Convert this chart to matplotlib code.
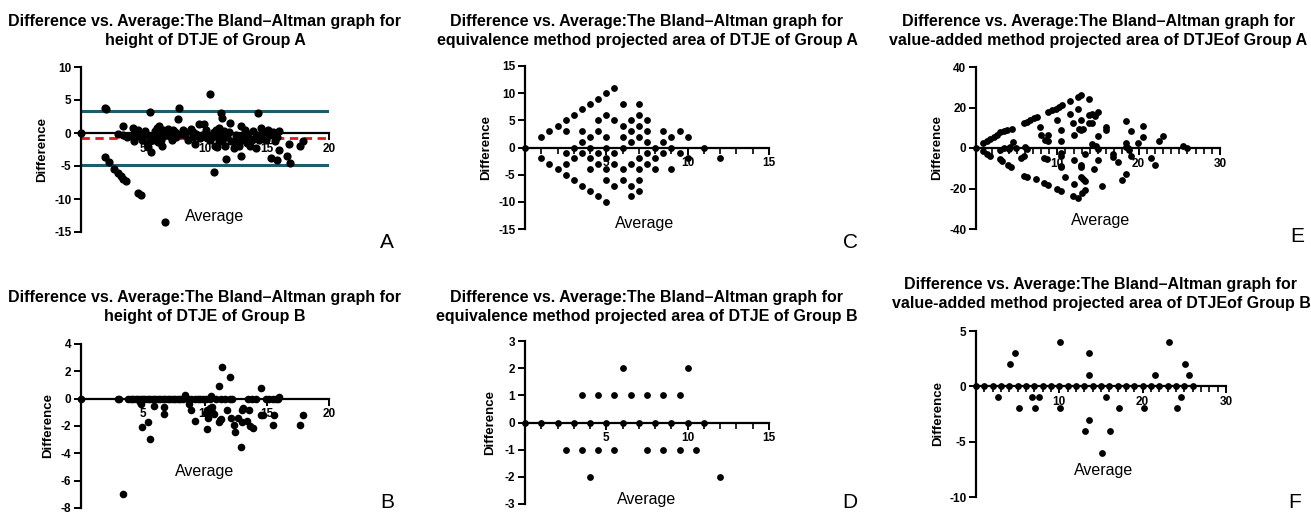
import numpy as np
import matplotlib.pyplot as plt
from matplotlib.ticker import MultipleLocator

plt.rcParams['font.family'] = ['Liberation Sans', 'DejaVu Sans']
plt.rcParams['axes.unicode_minus'] = False

# ---- data ----
# A: height, group A
a_x = [0, 1.9, 2.0, 1.9, 2.25, 2.7, 3.0, 3.2, 3.4, 3.6, 4.6, 4.8, 6.8, 5.55, 7.9, 7.85, 10.4, 10.75,
       11.3, 11.35, 12.0, 14.25, 11.7, 12.9, 15.3, 15.8, 16.85, 16.6, 16.0, 16.75, 17.65, 17.9, 5.65,
       9.5, 9.9, 3.35,
       3.0, 3.4, 3.7, 4.2, 4.3, 4.5, 4.6, 4.75, 4.85, 4.9, 5.0, 5.15, 5.3, 5.4, 5.55, 5.7, 5.85, 5.95,
       6.1, 6.25, 6.4, 6.45, 6.55, 6.65, 6.8, 6.9, 7.05, 7.2, 7.3, 7.45, 7.6, 7.7, 8.1, 8.25, 8.4, 8.6,
       8.8, 8.9, 9.05, 9.2, 9.6, 9.75, 10.05, 10.2, 10.25, 10.4, 10.55, 10.7, 10.8, 10.95, 11.1, 11.15,
       11.2, 11.35, 11.5, 11.6, 11.75, 11.95, 12.1, 12.3, 12.4, 12.65, 12.75, 12.9, 12.95, 13.1, 13.2,
       13.35, 13.5, 13.6, 13.75, 13.9, 14.05, 14.15, 14.35, 14.5, 14.55, 14.8, 14.95, 15.1, 15.25, 15.5,
       15.65, 15.8, 15.95,
       5.2, 5.5, 6.0, 6.3, 6.6, 7.0, 5.8, 6.2, 4.4, 9.3, 9.0, 11.0, 10.9, 11.5, 12.5, 13.3, 14.2, 3.9]
a_y = [0, 3.8, 3.7, -3.7, -4.4, -5.4, -6.0, -6.5, -6.9, -7.25, -9.15, -9.4, -13.5, 3.15, 3.75, 2.1, 5.9, -5.9,
       3.1, 2.25, 1.5, 3.0, -4.0, -3.5, -3.75, -4.1, -4.6, -3.5, -2.6, -1.65, -1.9, -1.15, -2.9,
       1.4, 1.4, 1.0,
       -0.1, -0.25, -0.6, 0.75, -1.15, 0.25, 0.5, -0.1, -0.6, -1.0, -0.25, -0.1, -1.5, -2.1, -1.25, -0.6, -0.25, 0.25,
       0.75, 1.0, 0.1, -1.0, -2.0, -0.5, -0.25, 0.25, -0.1, -0.5, -1.0, 0.5, 0.1, -0.6, -0.1, 0.4, -0.25, -1.0,
       0.25, 0.6, -0.6, -1.6, -0.75, -0.25, 0.4, -0.75, -0.25, -1.0, -0.6, 0.1, -1.9, -2.1, 0.75, -1.0,
       -0.25, -1.25, -0.5, -2.0, -0.6, 0.1, -1.25, -2.25, -1.5, -0.6, -2.0, 1.0, -1.0, -0.4, 0.5,
       -1.5, -0.6, -2.0, -1.0, 0.25, -0.75, -2.25, -1.1, 0.75, -0.6, 0.1, -1.0, 0.5, -0.25, 0.1,
       -1.25, -0.6, 0.25,
       0.3, -0.4, -0.8, -0.3, 0.4, 0.6, -1.0, -1.3, -0.3, -0.2, 0.1, -0.4, 0.5, 0.3, -0.3, 0.0, -0.3, -0.4]
a_mean = -0.73
a_upper = 3.4
a_lower = -4.9

# B: height, group B
b_x = [0, 3.0, 3.1, 3.8, 4.0, 4.2, 4.4, 4.6, 4.8, 5.0, 5.2, 5.4, 5.6, 5.8, 6.0, 6.2, 6.4, 6.6, 6.8, 7.0,
       7.2, 7.4, 7.6, 7.8, 8.0, 8.2, 8.6, 8.9, 9.2, 9.4, 9.6, 9.8, 10.1, 10.4, 10.9, 11.3, 11.6, 12.0,
       12.2, 13.5, 13.8, 14.1, 14.9, 15.2, 15.5, 15.7, 15.9,
       8.4, 10.5, 16.0, 3.4, 11.35, 12.0, 11.1, 14.5,
       4.75, 4.85, 5.9, 6.7, 6.7, 5.4, 4.95, 5.6, 8.7, 8.85, 9.2, 10.05, 10.2, 10.25, 10.4, 10.55,
       10.6, 10.75, 10.2, 11.1, 11.2, 11.3, 11.75, 12.1, 12.3, 12.4, 12.7, 12.95, 13.1, 13.0, 12.9,
       13.35, 13.55, 13.6, 13.9, 14.5, 14.7, 15.45, 15.6, 17.65, 17.9]
b_y = [0] * 47 + \
      [0.25, 0.2, 0.12, -7.0, 2.3, 1.55, 0.9, 0.75,
       -0.25, -0.37, -0.57, -0.62, -1.12, -1.74, -2.1, -2.95, -0.37, -0.8, -1.66, -1.07, -0.8, -1.41, -0.7, -0.62,
       -1.0, -1.1, -2.25, -1.74, -1.56, -1.5, -0.82, -1.44, -1.94, -2.43, -1.44, -1.74, -0.67, -0.8, -3.5,
       -1.6, -0.8, -2.0, -2.15, -1.17, -1.2, -1.9, -1.2, -1.94, -1.17]

# C: equivalence method, group A
c_x = [0, 1, 1, 1.5, 1.5, 2, 2, 2.5, 2.5, 2.5, 2.5, 2.5, 3, 3, 3, 3, 3.5, 3.5, 3.5, 3.5, 3.5,
       4, 4, 4, 4, 4, 4, 4.5, 4.5, 4.5, 4.5, 4.5, 4.5, 5, 5, 5, 5, 5, 5, 5, 5,
       5.5, 5.5, 5.5, 5.5, 5.5, 6, 6, 6, 6, 6, 6, 6.5, 6.5, 6.5, 6.5, 6.5, 6.5,
       7, 7, 7, 7, 7, 7, 7, 7, 7.5, 7.5, 7.5, 7.5, 7.5, 8, 8, 8, 8.5, 8.5, 8.5,
       9, 9, 9, 9.5, 9.5, 10, 10, 11, 12]
c_y = [0, 2, -2, 3, -3, 4, -4, 5, 3, -1, -3, -5, 6, 0, -2, -6, 7, 3, 1, -1, -7,
       8, 2, 0, -2, -4, -8, 9, 5, 3, -1, -3, -9, 10, 6, 2, 0, -2, -4, -6, -10,
       11, 5, -1, -3, -7, 8, 4, 2, 0, -4, -6, 5, 3, 1, -3, -7, -9,
       8, 6, 4, 2, -2, -4, -6, -8, 5, 3, 1, -1, -3, 0, -2, -4, 3, 1, -1,
       2, 0, -4, 3, -1, 2, -2, 0, -2]

# D: equivalence method, group B
d_x = [0, 1, 2, 3, 4, 5, 6, 7, 8, 9, 10, 11,
       3.5, 4.5, 5.5, 6.5, 7.5, 8.5, 9.5, 6, 10,
       2.5, 3.5, 4.5, 5.5, 7.5, 8.5, 9.5, 10.5, 4, 12]
d_y = [0] * 12 + [1] * 7 + [2, 2] + [-1] * 8 + [-2, -2]

# E: value-added method, group A
e_x = [0, 0.9, 1.35, 1.75, 2.2, 2.6, 3.0, 3.4, 3.8, 4.4, 5.9, 6.3, 6.7, 7.1, 7.5,
       8.9, 9.4, 9.8, 10.2, 10.6, 11.6, 12.5, 12.95, 13.9, 15.0, 14.3, 14.6,
       0.9, 1.35, 1.75, 3.0, 3.2, 3.9, 4.3, 5.9, 6.3, 7.4, 8.4, 8.9, 10.0, 10.5, 11.9, 12.5, 13.0, 13.4,
       4.5, 4.0, 4.9, 5.5, 5.9, 6.0, 6.3, 7.9, 8.0, 8.4, 8.7, 8.9, 8.5, 8.9, 10.0, 10.5, 10.5, 10.5,
       10.5, 10.5, 10.5, 11.0, 11.5, 11.9, 12.0, 12.0, 12.0, 12.5, 12.7, 12.95, 13.2, 12.95, 12.95,
       12.95, 12.95, 13.2, 13.4, 13.4, 13.9, 14.3, 13.9, 14.3, 14.7, 15.0, 14.5, 15.0, 15.5, 15.0,
       16.0, 16.0, 16.9, 16.9, 17.5, 18.4, 18.4, 18.4, 18.0, 18.4, 18.7, 18.8, 19.0, 19.0, 19.9,
       20.5, 20.5, 21.5, 21.95, 22.5, 22.95, 25.5, 25.9, 2.9, 3.4, 4.0, 4.2]
e_y = [0, 2.3, 3.3, 4.3, 5.4, 6.6, 7.7, 8.5, 9.0, 9.3, 12.1, 13.0, 13.8, 14.6, 15.4,
       18.0, 18.7, 19.5, 20.3, 21.1, 23.0, 25.2, 26.1, 24.1, 18.0, 16.7, 15.9,
       -1.6, -3.0, -4.1, -5.6, -6.2, -8.4, -9.5, -13.6, -14.4, -15.2, -17.4, -18.5, -20.2, -21.0, -23.9, -24.9, -22.3, -20.7,
       3.1, 0, 0, -4.9, -3.8, 0.7, -0.5, 10.2, 6.6, -4.9, -5.6, 6.6, 3.9, 3.3, 13.8, 8.9, 3.3, -2.6,
       -3.8, -8.7, -9.5, -14.1, 17.0, 12.1, 6.2, -5.9, -17.7, 19.2, 9.3, 8.9, 9.3, 13.8, -8.2,
       -9.5, -14.1, -15.2, -16.1, -3.0, 12.5, 12.1, 16.4, 2.0, 1.0, -0.5, -10.3, -5.9, -19.0, 6.1,
       10.5, 8.9, -3.0, -4.3, -6.7, 2.3, 0.7, 13.1, -15.7, -12.8, 0, -1.0, 8.2, -3.8, 2.3,
       11.0, 5.2, -4.9, -8.2, 3.3, 6.1, 1.1, 0, -1.0, 0, -0.5, 0.7]

# F: value-added method, group B
f_x = list(range(27)) + [2.6, 4.1, 4.7, 5.1, 6.7, 7.1, 7.6, 10.1, 10.1, 13.1, 13.6, 13.6, 13.6,
                         15.1, 15.6, 16.1, 17.1, 20.1, 21.5, 23.1, 24.1, 24.6, 25.1, 25.5]
f_y = [0] * 27 + [-1, 2, 3, -2, -1, -2, -1, 4, -2, -4, -3, 1, 3,
                  -6, -1, -4, -2, -2, 1, 4, -2, -1, 2, 1]

W, H = 1311, 514
fig = plt.figure(figsize=(W / 100, H / 100), dpi=100)


def make_ax(left, top, right, bottom):
    return fig.add_axes([left / W, 1 - bottom / H, (right - left) / W, (bottom - top) / H])


def style(ax, box, xmax, ylo, yhi, ystep, xstep, title, title_y, letter, letter_xy,
          avg_frac, avg_y, lab_off, minor=True):
    left, top, right, bottom = box
    ax.set_xlim(0, xmax)
    ax.set_ylim(ylo, yhi)
    ax.spines['top'].set_visible(False)
    ax.spines['right'].set_visible(False)
    ax.spines['bottom'].set_position(('data', 0))
    ax.spines['left'].set_linewidth(1.6)
    ax.spines['bottom'].set_linewidth(1.6)
    ax.set_yticks(np.arange(ylo, yhi + ystep / 2, ystep))
    ax.set_xticks(np.arange(xstep, xmax + xstep / 2, xstep))
    if minor:
        ax.xaxis.set_minor_locator(MultipleLocator(1))
        ax.tick_params(axis='x', which='minor', length=4, width=1.2, direction='out')
    ax.tick_params(axis='both', which='major', length=5, width=1.4, labelsize=8.5, pad=2)
    for lab in ax.get_xticklabels() + ax.get_yticklabels():
        lab.set_fontweight('bold')
    ax.set_ylabel('Difference', fontsize=9.5, fontweight='bold')
    ax.yaxis.set_label_coords(-lab_off / (right - left), 0.5)
    fig.text((left + right) / 2 / W, 1 - title_y / H, title, fontsize=11.5, fontweight='bold',
             ha='center', va='center', linespacing=1.3)
    ax.text(avg_frac, (avg_y - ylo) / (yhi - ylo), 'Average', transform=ax.transAxes,
            fontsize=11.5, ha='center', va='center')
    fig.text(letter_xy[0] / W, 1 - letter_xy[1] / H, letter, fontsize=15, ha='center', va='center')
    ax.patch.set_alpha(0)


line1 = 'Difference vs. Average:The Bland\u2013Altman graph for\n'

boxA = (81, 67, 329, 232)
axA = make_ax(*boxA)
axA.axhline(a_upper, color='#1d5c6b', lw=2.2, zorder=1)
axA.axhline(a_lower, color='#1d5c6b', lw=2.2, zorder=1)
axA.axhline(a_mean, color='#e8141a', lw=2, ls=(0, (3, 2)), zorder=1)
axA.scatter(a_x, a_y, s=24, color='black', zorder=3, clip_on=False)
style(axA, boxA, 20, -15, 10, 5, 5, line1 + 'height of DTJE of Group A', 31, 'A', (387, 242),
      0.54, -12.6, 33, minor=False)

boxC = (525, 66, 769, 229)
axC = make_ax(*boxC)
axC.scatter(c_x, c_y, s=15, color='black', zorder=3, clip_on=False)
style(axC, boxC, 15, -15, 15, 5, 5, line1 + 'equivalence method projected area of DTJE of Group A', 31,
      'C', (850, 242), 0.49, -14.0, 33)

boxE = (976, 67, 1220, 229)
axE = make_ax(*boxE)
axE.scatter(e_x, e_y, s=15, color='black', zorder=3, clip_on=False)
style(axE, boxE, 30, -40, 40, 20, 10, line1 + 'value-added method projected area of DTJEof Group A', 31,
      'E', (1297, 237), 0.51, -36, 33)

boxB = (81, 344, 329, 508)
axB = make_ax(*boxB)
axB.scatter(b_x, b_y, s=20, color='black', zorder=3, clip_on=False)
style(axB, boxB, 20, -8, 4, 2, 5, line1 + 'height of DTJE of Group B', 307, 'B', (387, 502),
      0.5, -5.3, 27, minor=False)

boxD = (525, 341, 769, 504)
axD = make_ax(*boxD)
axD.scatter(d_x, d_y, s=15, color='black', zorder=3, clip_on=False)
style(axD, boxD, 15, -3, 3, 1, 5, line1 + 'equivalence method projected area of DTJE of Group B', 307,
      'D', (850, 502), 0.5, -2.85, 29)

boxF = (976, 331, 1226, 497)
axF = make_ax(*boxF)
axF.scatter(f_x, f_y, s=15, color='black', zorder=3, clip_on=False)
style(axF, boxF, 30, -10, 5, 5, 10, line1 + 'value-added method projected area of DTJEof Group B', 294,
      'F', (1295, 502), 0.51, -7.6, 32)

plt.savefig('out.png', dpi=100)
